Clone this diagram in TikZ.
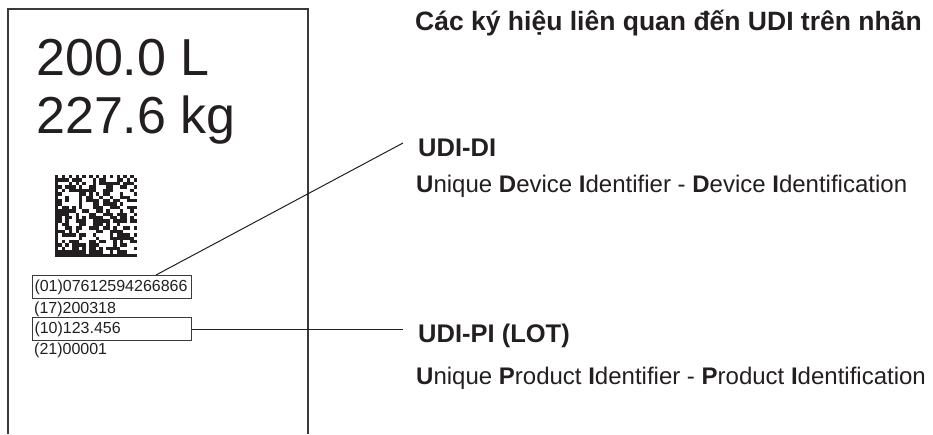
\documentclass[tikz,border=0pt]{standalone}
\usepackage{fontspec}
\setmainfont{Liberation Sans}
\usetikzlibrary{calc}
\definecolor{ink}{HTML}{231F20}
\definecolor{edge}{HTML}{3A3A3A}

\begin{document}
\begin{tikzpicture}[x=1pt, y=-1pt,
    txt/.style={anchor=base west, inner sep=0pt, text=ink},
    code/.style={txt, font=\fontsize{16}{16}\selectfont},
    codebox/.style={draw=edge, line width=1pt, anchor=north west, inner xsep=2pt,
        text width=155pt, minimum height=23pt, text=ink, font=\fontsize{16}{16}\selectfont},
    head/.style={txt, font=\fontsize{25.5}{25.5}\selectfont\bfseries},
    expl/.style={txt, font=\fontsize{24}{24}\selectfont},
    lead/.style={draw=ink, line width=1pt}]
    \useasboundingbox (0,0) rectangle (933,434);
    % label outline, open at the bottom
    \draw[edge, line width=1.5pt] (8,434) -- (8,9) -- (308,9) -- (308,434);
    % volume and mass
    \node[txt, font=\fontsize{52}{52}\selectfont] (vol) at (36,75) {200.0 L};
    \node[txt, font=\fontsize{52}{52}\selectfont] (mass) at (36,133) {227.6 kg};
    % data matrix code
    \def\msz{3.4167}
    \fill[ink] (55,175) rectangle +(\msz,82);
    \fill[ink] (55,257) rectangle +(82,-\msz);
    \foreach \k in {0,2,...,22}{
        \fill[ink] (55+\k*\msz,175) rectangle +(\msz,\msz);
        \fill[ink] (137-\msz,257-\k*\msz-\msz) rectangle +(\msz,\msz);
    }
    \pgfmathsetseed{4711}
    \foreach \i in {1,...,22}{
        \foreach \j in {1,...,22}{
            \pgfmathtruncatemacro\bit{round(rnd)}
            \ifnum\bit=1
                \fill[ink] (55+\i*\msz,175+\j*\msz) rectangle +(\msz,\msz);
            \fi
        }
    }
    % human readable lines
    \node[codebox] (gtin) at (32,275) {(01)07612594266866};
    \node[code] (expiry) at (34,313) {(17)200318};
    \node[codebox] (lot) at (32,317) {(10)123.456};
    \node[code] (serial) at (34,354) {(21)00001};
    % explanations
    \node[head, font=\fontsize{26.5}{26.5}\selectfont\bfseries] (title) at (415,30) {Các ký hiệu liên quan đến UDI trên nhãn};
    \node[head] (di) at (418,156) {UDI-DI};
    \node[expl] (ditext) at (416,192) {\textbf{U}nique \textbf{D}evice \textbf{I}dentifier - \textbf{D}evice \textbf{I}dentification};
    \node[head] (pi) at (418,342) {UDI-PI (LOT)};
    \node[expl] (pitext) at (416,384) {\textbf{U}nique \textbf{P}roduct \textbf{I}dentifier - \textbf{P}roduct \textbf{I}dentification};
    % leader lines
    \coordinate (diend) at (403,143);
    \coordinate (piend) at (403,0);
    \draw[lead] ([xshift=124pt]gtin.north west) -- (diend);
    \draw[lead] (lot.east) -- (lot.east -| piend);
\end{tikzpicture}
\end{document}
